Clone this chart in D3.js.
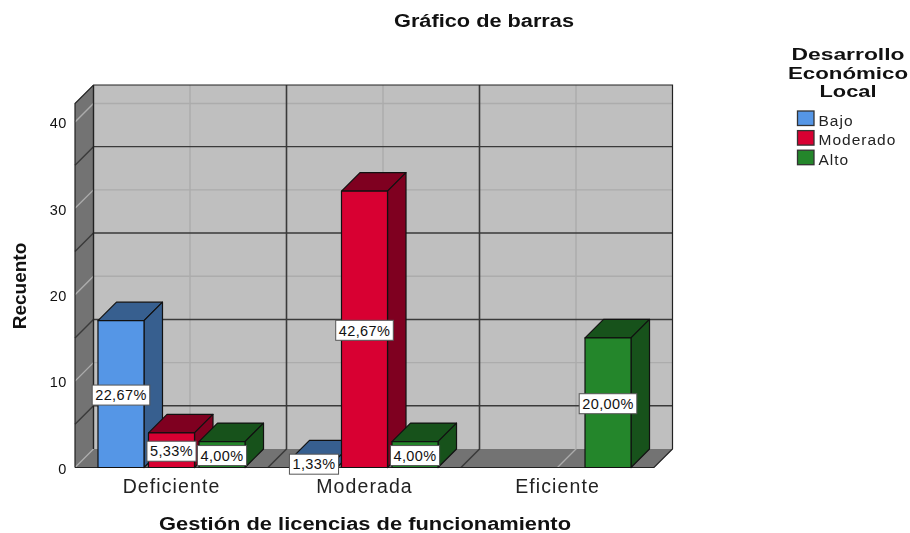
<!DOCTYPE html>
<html>
<head>
<meta charset="utf-8">
<script src="https://cdn.jsdelivr.net/npm/d3@7"></script>
<style>
  body { margin: 0; background: #fff; }
  svg { filter: blur(0.35px); }
  text { font-family: "Liberation Sans", Arial, sans-serif; fill: #111; }
</style>
</head>
<body>
<div id="vis"></div>
<script>
var categories = ["Deficiente", "Moderada", "Eficiente"];
var series = ["Bajo", "Moderado", "Alto"];

// counts per category, one array per series
var bajo = [17, 1, 0];
var moderado = [4, 32, 0];
var alto = [3, 3, 15];

// percentage labels as printed on the chart
var bajoLabels = ["22,67%", "1,33%", ""];
var moderadoLabels = ["5,33%", "42,67%", ""];
var altoLabels = ["4,00%", "4,00%", "20,00%"];

var yTicks = [0, 10, 20, 30, 40];
var majorLines = [5, 15, 25, 35];
var minorLines = [0, 10, 20, 30, 40];

var colors = ["#5596e6", "#d80032", "#24862b"];
var sideColors = ["#375f8f", "#7f0020", "#17521b"];

var width = 910;
var height = 533;
var depth = 18.5;
var left = 75;
var right = 654;
var bottom = 467.5;

var svg = d3.select("#vis")
  .append("svg")
  .attr("width", width)
  .attr("height", height)
  .style("display", "block");

var xScale = d3.scaleBand()
  .domain(categories)
  .range([left, right]);

var groupScale = d3.scaleBand()
  .domain(series)
  .range([0, xScale.bandwidth()])
  .paddingInner(0.089)
  .paddingOuter(0.455);

var yScale = d3.scaleLinear()
  .domain([0, 42.14])
  .range([bottom, 103.5]);

// back wall, side wall and floor
var topY = yScale(42.14);
var wall = svg.append("g");

wall.append("rect")
  .attr("x", left + depth)
  .attr("y", topY - depth)
  .attr("width", right - left)
  .attr("height", bottom - topY)
  .attr("fill", "#bfbfbf");

wall.append("path")
  .attr("d", d3.line()([[left, topY], [left + depth, topY - depth], [left + depth, bottom - depth], [left, bottom]]))
  .attr("fill", "#737373");

wall.append("path")
  .attr("d", d3.line()([[left, bottom], [left + depth, bottom - depth], [right + depth, bottom - depth], [right, bottom]]))
  .attr("fill", "#737373");

function wallLine(value, color, w) {
  var y = yScale(value);
  wall.append("path")
    .attr("d", d3.line()([[left, y], [left + depth, y - depth], [right + depth, y - depth]]))
    .attr("fill", "none")
    .attr("stroke", color)
    .attr("stroke-width", w);
}

function floorLine(x, color, w) {
  wall.append("path")
    .attr("d", d3.line()([[x, bottom], [x + depth, bottom - depth], [x + depth, topY - depth]]))
    .attr("fill", "none")
    .attr("stroke", color)
    .attr("stroke-width", w);
}

minorLines.slice(1).forEach(function(v) { wallLine(v, "#acacac", 1.4); });
categories.forEach(function(c) {
  floorLine(xScale(c) + xScale.bandwidth() / 2, "#acacac", 1.4);
});
majorLines.forEach(function(v) { wallLine(v, "#3a3a3a", 1.4); });
categories.slice(1).forEach(function(c) {
  floorLine(xScale(c), "#3a3a3a", 1.6);
});

// light line from the front corner along the floor edge
wall.append("line")
  .attr("x1", left)
  .attr("y1", bottom)
  .attr("x2", left + depth)
  .attr("y2", bottom - depth)
  .attr("stroke", "#acacac")
  .attr("stroke-width", 1.2);

// frame of the box
wall.append("path")
  .attr("d", d3.line()([[left, bottom], [left, topY], [left + depth, topY - depth], [right + depth, topY - depth], [right + depth, bottom - depth], [right, bottom], [left, bottom]]))
  .attr("fill", "none")
  .attr("stroke", "#222")
  .attr("stroke-width", 1.2);

wall.append("line")
  .attr("x1", left + depth)
  .attr("x2", left + depth)
  .attr("y1", topY - depth)
  .attr("y2", bottom - depth)
  .attr("stroke", "#222")
  .attr("stroke-width", 1.4);

// flat list of the bars
var bars = [];
[bajo, moderado, alto].forEach(function(values, s) {
  var labels = [bajoLabels, moderadoLabels, altoLabels][s];
  values.forEach(function(v, c) {
    if (v > 0) {
      bars.push({cat: categories[c], serie: series[s], s: s, value: v, label: labels[c]});
    }
  });
});

var barG = svg.selectAll(".bar")
  .data(bars)
  .enter()
  .append("g")
  .attr("class", "bar")
  .attr("stroke", "#111")
  .attr("stroke-width", 1.2)
  .attr("stroke-linejoin", "round");

function barX(d) { return xScale(d.cat) + groupScale(d.serie); }

barG.append("path")
  .attr("fill", function(d) { return sideColors[d.s]; })
  .attr("d", function(d) {
    var x = barX(d), w = groupScale.bandwidth(), y = yScale(d.value);
    return d3.line()([[x, y], [x + depth, y - depth], [x + w + depth, y - depth], [x + w, y]]) + "Z";
  });

barG.append("path")
  .attr("fill", function(d) { return sideColors[d.s]; })
  .attr("d", function(d) {
    var x = barX(d) + groupScale.bandwidth(), y = yScale(d.value);
    return d3.line()([[x, y], [x + depth, y - depth], [x + depth, bottom - depth], [x, bottom]]) + "Z";
  });

barG.append("rect")
  .attr("x", barX)
  .attr("y", function(d) { return yScale(d.value); })
  .attr("width", groupScale.bandwidth())
  .attr("height", function(d) { return bottom - yScale(d.value); })
  .attr("fill", function(d) { return colors[d.s]; });

// value labels go on top of everything
var labelG = svg.selectAll(".valueLabel")
  .data(bars)
  .enter()
  .append("g")
  .attr("class", "valueLabel")
  .attr("transform", function(d) {
    var cx = barX(d) + groupScale.bandwidth() / 2;
    var cy = (yScale(d.value) + bottom) / 2 + 1;
    return "translate(" + cx + "," + cy + ")";
  });

var labelText = labelG.append("text")
  .attr("text-anchor", "middle")
  .attr("dy", "0.36em")
  .style("font-size", "14.5px")
  .style("letter-spacing", "0.4px")
  .text(function(d) { return d.label; });

labelG.insert("rect", "text")
  .attr("fill", "#fff")
  .attr("stroke", "#555")
  .attr("stroke-width", 1)
  .attr("height", 20)
  .attr("y", -10)
  .each(function(d, i) {
    var w = labelText.nodes()[i].getComputedTextLength() + 6;
    d3.select(this).attr("x", -w / 2).attr("width", w);
  });

// axes
var yAxis = svg.append("g")
  .attr("transform", "translate(" + 71 + ",1)")
  .call(d3.axisLeft(yScale).tickValues(yTicks).tickSize(0).tickPadding(4));
yAxis.select(".domain").remove();
yAxis.selectAll("text")
  .style("font-family", "'Liberation Sans', Arial, sans-serif")
  .style("font-size", "14.5px")
  .style("letter-spacing", "0.6px")
  .style("fill", "#111");

var xAxis = svg.append("g")
  .attr("transform", "translate(0," + 477 + ")")
  .call(d3.axisBottom(xScale).tickSize(0).tickPadding(2));
xAxis.select(".domain").remove();
xAxis.selectAll("text")
  .style("font-family", "'Liberation Sans', Arial, sans-serif")
  .style("font-size", "19.5px")
  .style("letter-spacing", "1.1px")
  .style("fill", "#222");

// titles
svg.append("text")
  .attr("x", 484)
  .attr("y", 27)
  .attr("text-anchor", "middle")
  .attr("textLength", 180)
  .attr("lengthAdjust", "spacingAndGlyphs")
  .style("font-size", "18px")
  .style("font-weight", "bold")
  .text("Gráfico de barras");

svg.append("text")
  .attr("x", 365)
  .attr("y", 530)
  .attr("text-anchor", "middle")
  .attr("textLength", 412)
  .attr("lengthAdjust", "spacingAndGlyphs")
  .style("font-size", "18px")
  .style("font-weight", "bold")
  .text("Gestión de licencias de funcionamiento");

svg.append("text")
  .attr("transform", "translate(26,286) rotate(-90)")
  .attr("text-anchor", "middle")
  .style("font-size", "19px")
  .style("font-weight", "bold")
  .text("Recuento");

// legend
var legendTitle = ["Desarrollo", "Económico", "Local"];
var legendTitleWidths = [113, 120, 57];
svg.selectAll(".legendTitle")
  .data(legendTitle)
  .enter()
  .append("text")
  .attr("class", "legendTitle")
  .attr("x", 848)
  .attr("y", function(d, i) { return 60 + i * 18.5; })
  .attr("text-anchor", "middle")
  .attr("textLength", function(d, i) { return legendTitleWidths[i]; })
  .attr("lengthAdjust", "spacingAndGlyphs")
  .style("font-size", "16px")
  .style("font-weight", "bold")
  .text(function(d) { return d; });

var legend = svg.selectAll(".legendItem")
  .data(series)
  .enter()
  .append("g")
  .attr("class", "legendItem")
  .attr("transform", function(d, i) { return "translate(797.5," + (111 + i * 19.6) + ")"; });

legend.append("rect")
  .attr("width", 16.5)
  .attr("height", 14.5)
  .attr("fill", function(d, i) { return colors[i]; })
  .attr("stroke", "#333")
  .attr("stroke-width", 1.3);

legend.append("text")
  .attr("x", 21)
  .attr("y", 14.5)
  .style("font-size", "15.5px")
  .style("letter-spacing", "1px")
  .style("fill", "#222")
  .text(function(d) { return d; });
</script>
</body>
</html>
